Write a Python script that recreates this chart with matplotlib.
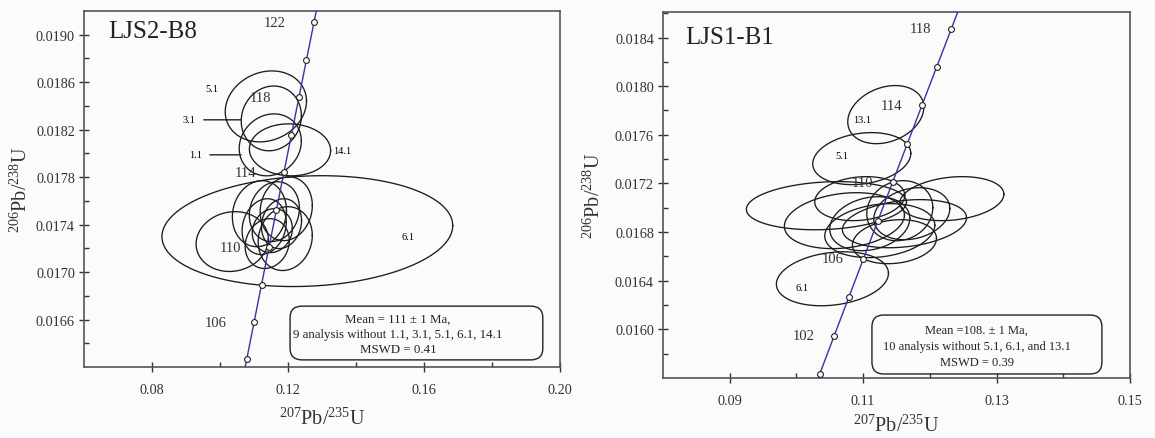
import numpy as np
import matplotlib
matplotlib.use('Agg')
import matplotlib.pyplot as plt
from matplotlib.patches import FancyBboxPatch
from matplotlib.ticker import MultipleLocator

plt.rcParams['font.family'] = ['Liberation Serif', 'DejaVu Serif']
plt.rcParams['mathtext.fontset'] = 'custom'
plt.rcParams['mathtext.rm'] = 'Liberation Serif'
plt.rcParams['mathtext.it'] = 'Liberation Serif:italic'
plt.rcParams['mathtext.bf'] = 'Liberation Serif:bold'

# decay constants (1/yr)
L238 = 1.55125e-10
L235 = 9.8485e-10

# --- LJS2-B8 spot analyses: 207/235, 206/238, 1-sigma half widths, correlation
b8_name = ['5.1', '3.1', '1.1', '14.1', '6.1', '', '', '', '', '', '', '', '', '']
b8_x   = [0.1135, 0.1151, 0.1148, 0.1206, 0.1257, 0.1116, 0.1160, 0.1195, 0.1130,
          0.1154, 0.1181, 0.1036, 0.1192, 0.1139]
b8_y   = [0.018396, 0.018295, 0.018072, 0.018030, 0.017345, 0.017492, 0.017509,
          0.017534, 0.017383, 0.017349, 0.017408, 0.017257, 0.017282, 0.017240]
b8_sx  = [0.01195, 0.00885, 0.00914, 0.01195, 0.04277, 0.00796, 0.00737, 0.00767,
          0.00649, 0.00590, 0.00590, 0.01062, 0.00796, 0.00649]
b8_sy  = [0.000299, 0.000273, 0.000261, 0.000219, 0.000467, 0.000278, 0.000252,
          0.000269, 0.000235, 0.000185, 0.000210, 0.000252, 0.000269, 0.000210]
b8_rho = [0.15, 0.08, 0.12, -0.03, 0.1, 0.1, 0.12, 0.1, 0.15, 0.1, 0.12, 0.08, 0.1, 0.12]
b8_ages = [104, 106, 108, 110, 112, 114, 116, 118, 120, 122]
b8_age_labels = [106, 110, 114, 118, 122]

# --- LJS1-B1 spot analyses
b1_name = ['13.1', '5.1', '6.1', '', '', '', '', '', '', '', '', '', '']
b1_x   = [0.1134, 0.1098, 0.1054, 0.1045, 0.1233, 0.1162, 0.1125, 0.1155, 0.1095,
          0.1072, 0.1110, 0.1147, 0.1173]
b1_y   = [0.017766, 0.017404, 0.016416, 0.017017, 0.017075, 0.016869, 0.016812,
          0.016976, 0.017075, 0.016894, 0.016869, 0.016721, 0.016951]
b1_sx  = [0.0057, 0.00735, 0.0084, 0.0120, 0.0078, 0.0093, 0.00825, 0.00495, 0.00675,
          0.0090, 0.0060, 0.0063, 0.0057]
b1_sy  = [0.000239, 0.000214, 0.000222, 0.000198, 0.000181, 0.000198, 0.000222,
          0.000247, 0.000181, 0.000230, 0.000222, 0.000181, 0.000214]
b1_rho = [0.25, 0.2, 0.2, 0.15, 0.2, 0.25, 0.2, 0.1, 0.15, 0.2, 0.2, 0.15, 0.2]
b1_ages = [100, 102, 104, 106, 108, 110, 112, 114, 116, 118]
b1_age_labels = [102, 106, 110, 114, 118]


def concordia(t_ma):
    t = np.asarray(t_ma, dtype=float) * 1e6
    return np.exp(L235 * t) - 1, np.exp(L238 * t) - 1


def draw_ellipse(ax, x, y, sx, sy, rho):
    th = np.linspace(0, 2 * np.pi, 240)
    ex = x + sx * np.cos(th)
    ey = y + sy * (rho * np.cos(th) + np.sqrt(1 - rho ** 2) * np.sin(th))
    ax.plot(ex, ey, color='#1c1c1c', lw=0.95, zorder=2)


def setup(ax):
    ax.tick_params(which='major', direction='inout', length=7, width=1.0,
                   labelsize=10.3, color='#333333', labelcolor='#333333')
    ax.tick_params(axis='x', which='major', pad=8)
    ax.tick_params(axis='y', which='major', pad=3)
    ax.tick_params(which='minor', direction='in', length=3.5, width=1.0, color='#333333')
    ax.yaxis.set_major_formatter(plt.FuncFormatter(lambda v, p: '%.4f' % v))
    ax.xaxis.set_major_formatter(plt.FuncFormatter(lambda v, p: '%.2f' % v))
    for s in ax.spines.values():
        s.set_color('#555555')
        s.set_linewidth(1.2)
    ax.set_facecolor('#fbfbfb')
    ax.set_xlabel(r'$^{207}$Pb/$^{235}$U', fontsize=14.5, color='#333333')
    ax.set_ylabel(r'$^{206}$Pb/$^{238}$U', fontsize=14.5, color='#333333')


def draw_concordia(ax, ages, labelled, offset):
    cx, cy = concordia(np.linspace(90, 130, 200))
    ax.plot(cx, cy, color='#3434a4', lw=1.0, zorder=3)
    mx, my = concordia(ages)
    ax.plot(mx, my, 'o', ms=4.2, mfc='white', mec='#222222', mew=0.8, zorder=4)
    for a in labelled:
        px, py = concordia(a)
        ax.annotate(str(a), (px, py), xytext=(offset, 0), textcoords='offset points',
                    ha='center', va='center', fontsize=10.5, color='#333333', zorder=5)


def note_box(ax, box, tx, lines, ys, size):
    ax.add_patch(FancyBboxPatch((box[0], box[1]), box[2], box[3],
                                boxstyle='round,pad=0,rounding_size=0.025',
                                transform=ax.transAxes, fc='none', ec='#222222', lw=1.0,
                                mutation_aspect=1.3))
    for s, yy in zip(lines, ys):
        ax.text(tx, yy, s, transform=ax.transAxes, ha='center', va='center',
                fontsize=size, color='#222222')


fig = plt.figure(figsize=(11.55, 4.39), dpi=100, facecolor='#fbfbfb')
ax1 = fig.add_axes([0.0727, 0.1617, 0.4121, 0.811])
ax2 = fig.add_axes([0.5740, 0.1367, 0.4043, 0.8337])

# left: LJS2-B8
ax1.set_xlim(0.06, 0.20)
ax1.set_ylim(0.0162, 0.0192)
ax1.xaxis.set_major_locator(plt.FixedLocator([0.08, 0.12, 0.16, 0.20]))
ax1.xaxis.set_minor_locator(plt.FixedLocator([0.10, 0.14, 0.18]))
ax1.yaxis.set_major_locator(plt.FixedLocator(np.arange(0.0166, 0.01905, 0.0004)))
ax1.yaxis.set_minor_locator(plt.FixedLocator(np.arange(0.0164, 0.01905, 0.0004)))
setup(ax1)
for i in range(len(b8_x)):
    draw_ellipse(ax1, b8_x[i], b8_y[i], b8_sx[i], b8_sy[i], b8_rho[i])
draw_concordia(ax1, b8_ages, b8_age_labels, -28)
ax1.text(0.05, 0.944, 'LJS2-B8', transform=ax1.transAxes, fontsize=18,
         ha='left', va='center', color='#222222')
ax1.text(0.0977, 0.018543, '5.1', fontsize=7.5, ha='center', va='center')
ax1.annotate('3.1', (0.1062, 0.018283), xytext=(0.0909, 0.018283),
             fontsize=7.5, ha='center', va='center',
             arrowprops=dict(arrowstyle='-', lw=1.0, color='#222222', shrinkA=4, shrinkB=0))
ax1.annotate('1.1', (0.1062, 0.017988), xytext=(0.0927, 0.017988),
             fontsize=7.5, ha='center', va='center',
             arrowprops=dict(arrowstyle='-', lw=1.0, color='#222222', shrinkA=4, shrinkB=0))
ax1.text(0.1360, 0.018021, '14.1', fontsize=7.5, ha='center', va='center')
ax1.text(0.1552, 0.017297, '6.1', fontsize=7.5, ha='center', va='center')
note_box(ax1, (0.433, 0.020, 0.531, 0.151), 0.660,
         ['Mean = 111 \u00b1 1 Ma,', '9 analysis without 1.1, 3.1, 5.1, 6.1, 14.1',
          'MSWD = 0.41'], [0.135, 0.093, 0.051], 9.3)
ax1.yaxis.set_label_coords(-0.11, 0.5)
ax1.xaxis.set_label_coords(0.5, -0.115)

# right: LJS1-B1
ax2.set_xlim(0.08, 0.15)
ax2.set_ylim(0.0156, 0.01861)
ax2.xaxis.set_major_locator(plt.FixedLocator([0.09, 0.11, 0.13, 0.15]))
ax2.xaxis.set_minor_locator(plt.FixedLocator([0.10, 0.12, 0.14]))
ax2.yaxis.set_major_locator(plt.FixedLocator(np.arange(0.0160, 0.01845, 0.0004)))
ax2.yaxis.set_minor_locator(plt.FixedLocator(np.arange(0.0158, 0.01861, 0.0004)))
setup(ax2)
for i in range(len(b1_x)):
    draw_ellipse(ax2, b1_x[i], b1_y[i], b1_sx[i], b1_sy[i], b1_rho[i])
draw_concordia(ax2, b1_ages, b1_age_labels, -22)
ax2.text(0.047, 0.932, 'LJS1-B1', transform=ax2.transAxes, fontsize=18,
         ha='left', va='center', color='#222222')
ax2.text(0.1099, 0.017725, '13.1', fontsize=7.5, ha='center', va='center')
ax2.text(0.1068, 0.017429, '5.1', fontsize=7.5, ha='center', va='center')
ax2.text(0.1009, 0.016342, '6.1', fontsize=7.5, ha='center', va='center')
note_box(ax2, (0.4475, 0.011, 0.4925, 0.161), 0.672,
         ['Mean =108. \u00b1 1 Ma,', '10 analysis without 5.1, 6.1, and 13.1',
          'MSWD = 0.39'], [0.131, 0.087, 0.044], 9.0)
ax2.yaxis.set_label_coords(-0.125, 0.5)
ax2.xaxis.set_label_coords(0.5, -0.1)

fig.savefig('out.png', dpi=100, facecolor=fig.get_facecolor())
